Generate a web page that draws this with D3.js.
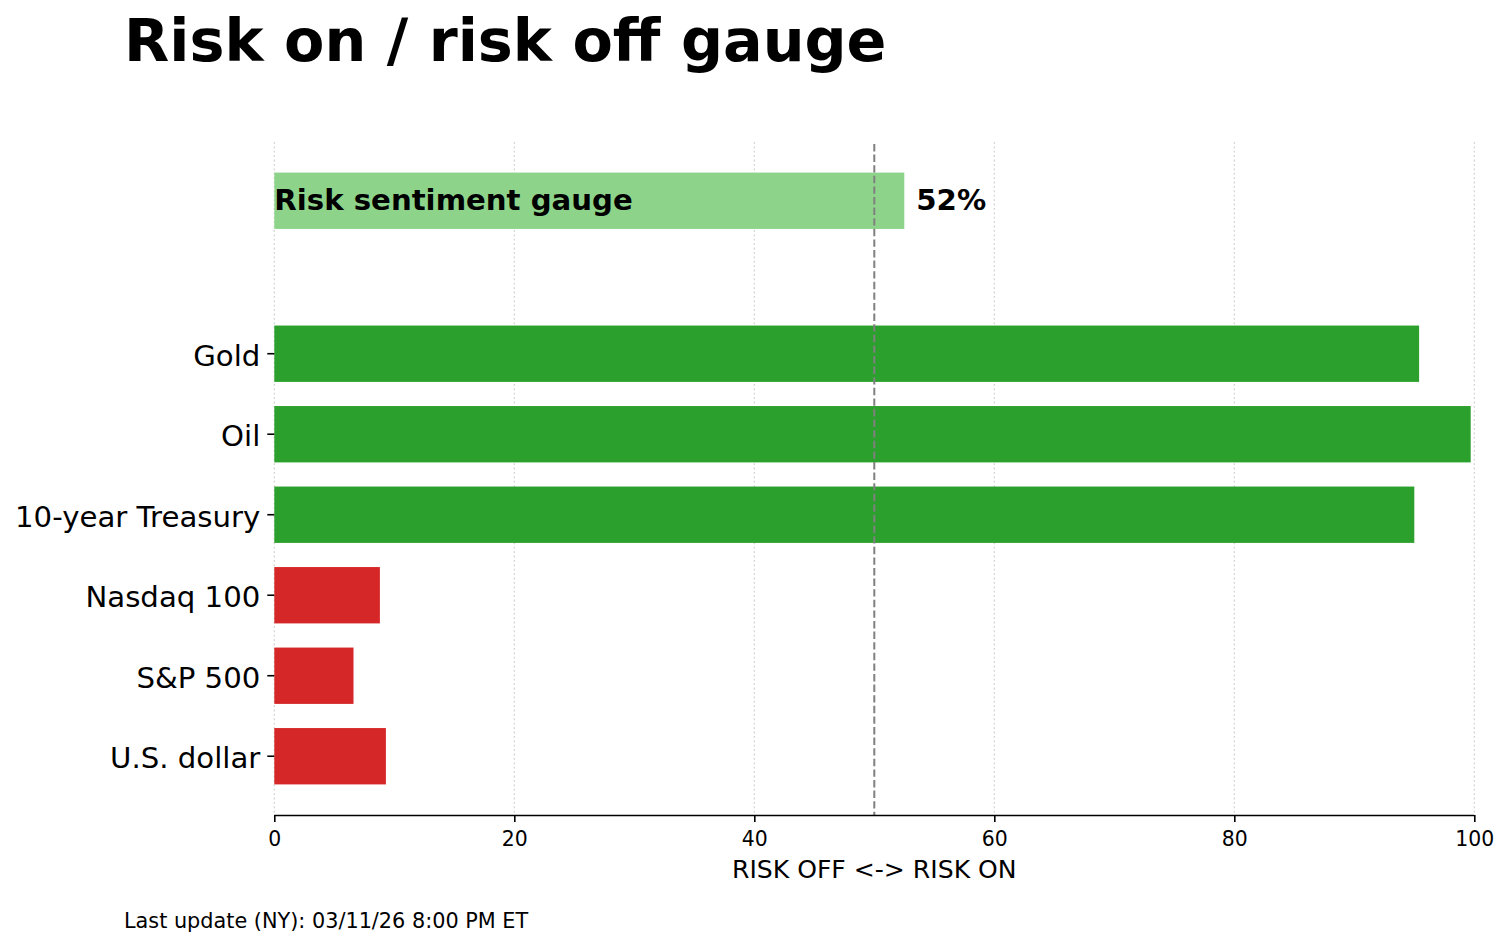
<!DOCTYPE html>
<html>
<head>
<meta charset="utf-8">
<script src="https://cdn.jsdelivr.net/npm/d3@7"></script>
<style>
  html, body { margin: 0; padding: 0; background: #fff; }
  svg { display: block; font-family: "DejaVu Sans", sans-serif; }
</style>
</head>
<body>
<svg id="chart" width="1509" height="946"></svg>
<script>
// ---- data ----
const categories = ["U.S. dollar", "S&P 500", "Nasdaq 100", "10-year Treasury", "Oil", "Gold"];
const values = [9.3, 6.6, 8.8, 95.0, 99.7, 95.4];
const riskOn = [false, false, false, true, true, true];
const gaugeLabel = "Risk sentiment gauge";
const gaugeValue = 52.5;
const gaugeText = "52%";
const xTicks = [0, 20, 40, 60, 80, 100];
const titleText = "Risk on / risk off gauge";
const xLabelText = "RISK OFF <-> RISK ON";
const footerText = "Last update (NY): 03/11/26 8:00 PM ET";

(function () {
// ---- layout ----
const svg = d3.select("#chart");
const pLeft = 274.3, pRight = 1474.3, pTop = 142, pBottom = 815;
const gaugePos = categories.length + 0.9;
const barH = 0.7;
const yMin = -barH / 2, yMax = gaugePos + barH / 2;
const pad = (yMax - yMin) * 0.05;

const x = d3.scaleLinear().domain([0, 100]).range([pLeft, pRight]);
const y = d3.scaleLinear().domain([yMin - pad, yMax + pad]).range([pBottom, pTop]);
const hPx = y(0) - y(barH);

// gridlines
svg.append("g").selectAll("line").data(xTicks).join("line")
  .attr("x1", d => x(d)).attr("x2", d => x(d))
  .attr("y1", pTop).attr("y2", pBottom)
  .attr("stroke", "#cfcfcf").attr("stroke-width", 1.2)
  .attr("stroke-dasharray", "1.8,2.6");

// gauge bar
svg.append("rect")
  .attr("x", x(0)).attr("y", y(gaugePos) - hPx / 2)
  .attr("width", x(gaugeValue) - x(0)).attr("height", hPx)
  .attr("fill", "#8dd48a");

// category bars
svg.append("g").selectAll("rect").data(categories).join("rect")
  .attr("x", x(0))
  .attr("y", (d, i) => y(i) - hPx / 2)
  .attr("width", (d, i) => x(values[i]) - x(0))
  .attr("height", hPx)
  .attr("fill", (d, i) => riskOn[i] ? "#2ca02c" : "#d62728");

// 50 line
svg.append("line")
  .attr("x1", x(50)).attr("x2", x(50))
  .attr("y1", pTop + 2).attr("y2", pBottom)
  .attr("stroke", "#808080").attr("stroke-width", 2)
  .attr("stroke-dasharray", "7.4,3.2");

// gauge texts
svg.append("text")
  .attr("x", x(0)).attr("y", y(gaugePos)).attr("dy", "0.31em")
  .attr("font-size", 29.2).attr("font-weight", "bold").attr("fill", "#000")
  .text(gaugeLabel);
svg.append("text")
  .attr("x", x(gaugeValue + 1)).attr("y", y(gaugePos)).attr("dy", "0.31em")
  .attr("font-size", 29.2).attr("font-weight", "bold").attr("fill", "#000")
  .text(gaugeText);

// y axis (ticks + labels, no spine)
const yAxis = svg.append("g");
categories.forEach((c, i) => {
  yAxis.append("line")
    .attr("x1", pLeft - 7).attr("x2", pLeft)
    .attr("y1", y(i)).attr("y2", y(i))
    .attr("stroke", "#000").attr("stroke-width", 1.6);
  yAxis.append("text")
    .attr("x", pLeft - 14).attr("y", y(i)).attr("dy", "0.41em")
    .attr("text-anchor", "end").attr("font-size", 29.2).attr("fill", "#000")
    .text(c);
});

// x axis
const xAxis = svg.append("g").attr("transform", `translate(0,${pBottom})`)
  .call(d3.axisBottom(x).tickValues(xTicks).tickSize(7).tickPadding(8).tickFormat(d3.format("d")));
xAxis.select(".domain").attr("stroke", "#000").attr("stroke-width", 1.6)
  .attr("d", `M${pLeft},0.5H${pRight}`);
xAxis.selectAll(".tick line").attr("stroke", "#000").attr("stroke-width", 1.6);
xAxis.selectAll(".tick text").attr("font-size", 20.4).attr("fill", "#000")
  .attr("font-family", "DejaVu Sans").attr("dy", "0.78em");

// x label
svg.append("text")
  .attr("x", (pLeft + pRight) / 2).attr("y", 878)
  .attr("text-anchor", "middle").attr("font-size", 25.1).attr("fill", "#000")
  .text(xLabelText);

// title
svg.append("text")
  .attr("x", 124).attr("y", 61)
  .attr("font-size", 58.8).attr("font-weight", "bold").attr("fill", "#000")
  .text(titleText);

// footer
svg.append("text")
  .attr("x", 124).attr("y", 928)
  .attr("font-size", 20.8).attr("fill", "#000")
  .text(footerText);
})();
</script>
</body>
</html>
